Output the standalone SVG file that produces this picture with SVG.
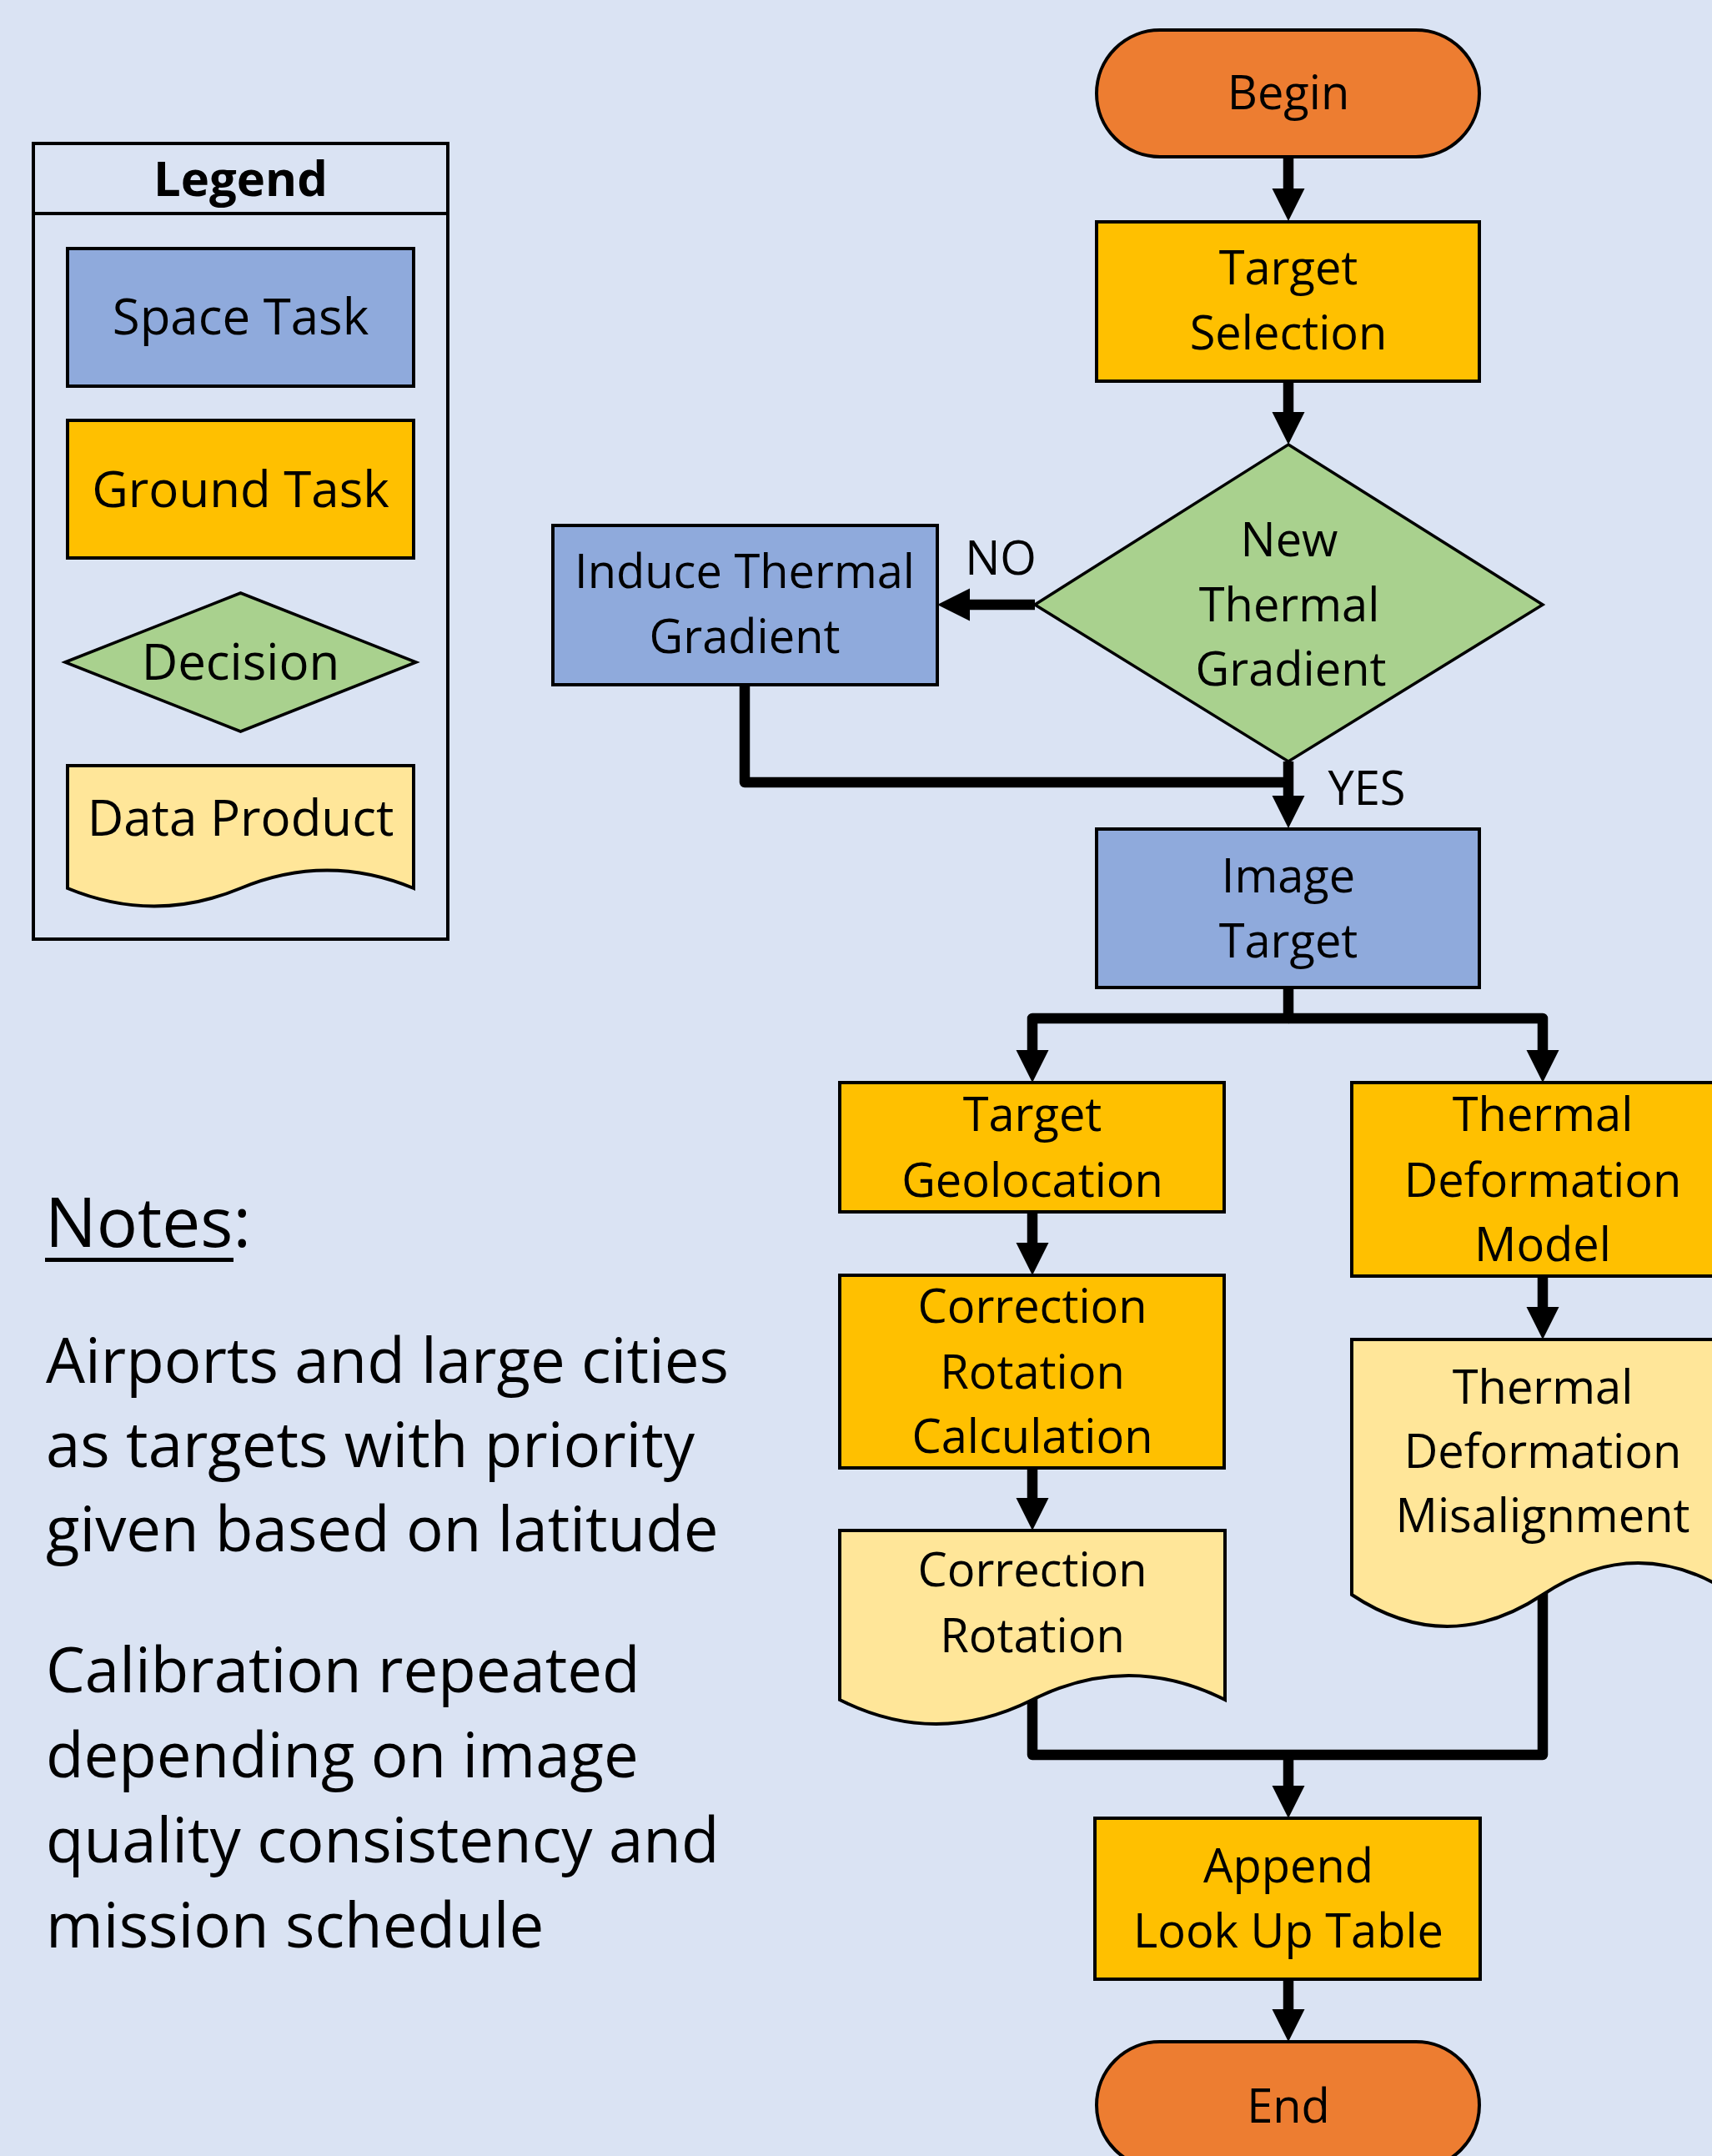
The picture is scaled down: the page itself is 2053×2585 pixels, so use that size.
<svg xmlns="http://www.w3.org/2000/svg" width="2053" height="2585" viewBox="0 0 2053 2585">
<style>
.t{font-family:"Open Sans","Noto Sans","Liberation Sans",sans-serif;fill:#000;text-anchor:middle}
.f{font-size:56px}
.lg{font-size:60px}
.nt{font-family:"Open Sans","Noto Sans","Liberation Sans",sans-serif;fill:#000;font-size:74.4px}
.box{stroke:#000;stroke-width:4}
.gt{fill:#FFC000}
.st{fill:#8FAADC}
.dc{fill:#A9D18E}
.dp{fill:#FFE699}
.te{fill:#ED7D31}
.c{fill:none;stroke:#000;stroke-width:12.5;stroke-linejoin:round}
</style>
<defs>
<marker id="ah" markerUnits="userSpaceOnUse" markerWidth="40" markerHeight="40" viewBox="0 0 40 40" refX="2" refY="20" orient="auto">
<path d="M0,0.5 L39,20 L0,39.5 z" fill="#000"/>
</marker>
</defs>
<rect x="0" y="0" width="2053" height="2585" fill="#DAE3F3"/>

<g id="legend">
<rect x="40" y="172" width="497" height="954" fill="none" stroke="#000" stroke-width="4"/>
<line x1="40" y1="256" x2="537" y2="256" stroke="#000" stroke-width="4"/>
<text class="t" x="288.5" y="235" style="font-size:58px;font-weight:bold">Legend</text>
<g id="legend-space">
<rect class="box st" x="81" y="298" width="415" height="165"/>
<text class="t lg" x="288.5" y="401">Space Task</text>
</g>
<g id="legend-ground">
<rect class="box gt" x="81" y="504" width="415" height="165"/>
<text class="t lg" x="288.5" y="608">Ground Task</text>
</g>
<g id="legend-decision">
<polygon class="dc" points="78,794 288.5,711 499,794 288.5,877" stroke="#000" stroke-width="3.5"/>
<text class="t lg" x="288.5" y="815">Decision</text>
</g>
<g id="legend-data">
<path class="box dp" d="M81,918 H496 V1065 Q392,1022 288.5,1065 T81,1065 Z"/>
<text class="t lg" x="288.5" y="1002">Data Product</text>
</g>
</g>

<g id="notes">
<text class="nt" x="54" y="1495" style="font-size:82px">Notes:</text>
<rect x="54" y="1508" width="226" height="5" fill="#000"/>
<text class="nt" x="55" y="1658">Airports and large cities</text>
<text class="nt" x="55" y="1759">as targets with priority</text>
<text class="nt" x="55" y="1860">given based on latitude</text>
<text class="nt" x="55" y="2029">Calibration repeated</text>
<text class="nt" x="55" y="2131">depending on image</text>
<text class="nt" x="55" y="2233">quality consistency and</text>
<text class="nt" x="55" y="2335">mission schedule</text>
</g>

<g id="connectors">
<path class="c" d="M1545,188 V228" marker-end="url(#ah)"/>
<path class="c" d="M1545,457 V496" marker-end="url(#ah)"/>
<path class="c" d="M1241,725 H1161" marker-end="url(#ah)"/>
<path class="c" d="M893,821 V938 H1545"/>
<path class="c" d="M1545,913 V956" marker-end="url(#ah)"/>
<path class="c" d="M1545,1184 V1221 H1238 V1261" marker-end="url(#ah)"/>
<path class="c" d="M1545,1221 H1850 V1261" marker-end="url(#ah)"/>
<path class="c" d="M1238,1453 V1492" marker-end="url(#ah)"/>
<path class="c" d="M1238,1760 V1798" marker-end="url(#ah)"/>
<path class="c" d="M1850,1530 V1569" marker-end="url(#ah)"/>
<path class="c" d="M1238,2025 V2104 H1850 V1900"/>
<path class="c" d="M1545,2104 V2143" marker-end="url(#ah)"/>
<path class="c" d="M1545,2373 V2411" marker-end="url(#ah)"/>
<text class="t f" x="1200" y="689">NO</text>
<text class="t f" x="1639" y="965">YES</text>
</g>

<g id="begin">
<rect class="box te" x="1315" y="36" width="459" height="152" rx="76" ry="76"/>
<text class="t f" x="1545" y="131">Begin</text>
</g>
<g id="target-selection">
<rect class="box gt" x="1315" y="266" width="459" height="191"/>
<text class="t f" x="1545" y="341">Target</text>
<text class="t f" x="1545" y="419">Selection</text>
</g>
<g id="new-thermal-gradient">
<polygon class="dc" points="1545,533 1850,725 1545,913 1241,725" stroke="#000" stroke-width="3.5"/>
<text class="t f" x="1546" y="667">New</text>
<text class="t f" x="1546" y="745">Thermal</text>
<text class="t f" x="1548" y="822">Gradient</text>
</g>
<g id="induce-thermal-gradient">
<rect class="box st" x="663" y="630" width="461" height="191"/>
<text class="t f" x="893" y="705">Induce Thermal</text>
<text class="t f" x="893" y="783">Gradient</text>
</g>
<g id="image-target">
<rect class="box st" x="1315" y="994" width="459" height="190"/>
<text class="t f" x="1545" y="1070">Image</text>
<text class="t f" x="1545" y="1148">Target</text>
</g>
<g id="target-geolocation">
<rect class="box gt" x="1007" y="1298" width="461" height="155"/>
<text class="t f" x="1238" y="1356">Target</text>
<text class="t f" x="1238" y="1435">Geolocation</text>
</g>
<g id="thermal-deformation-model">
<rect class="box gt" x="1621" y="1298" width="458" height="232"/>
<text class="t f" x="1850" y="1356">Thermal</text>
<text class="t f" x="1850" y="1435">Deformation</text>
<text class="t f" x="1850" y="1512">Model</text>
</g>
<g id="correction-rotation-calculation">
<rect class="box gt" x="1007" y="1529" width="461" height="231"/>
<text class="t f" x="1238" y="1586">Correction</text>
<text class="t f" x="1238" y="1665">Rotation</text>
<text class="t f" x="1238" y="1742">Calculation</text>
</g>
<g id="correction-rotation">
<path class="box dp" d="M1007,1835 H1469 V2038 Q1353.5,1980 1238,2038 T1007,2038 Z"/>
<text class="t f" x="1238" y="1902">Correction</text>
<text class="t f" x="1238" y="1981">Rotation</text>
</g>
<g id="thermal-deformation-misalignment">
<path class="box dp" d="M1621,1606 H2079 V1912 Q1964.5,1836 1850,1912 T1621,1912 Z"/>
<text class="t f" x="1850" y="1683">Thermal</text>
<text class="t f" x="1850" y="1760">Deformation</text>
<text class="t f" x="1850" y="1837">Misalignment</text>
</g>
<g id="append-lut">
<rect class="box gt" x="1313" y="2180" width="462" height="193"/>
<text class="t f" x="1545" y="2257">Append</text>
<text class="t f" x="1545" y="2335">Look Up Table</text>
</g>
<g id="end">
<rect class="box te" x="1315" y="2448" width="459" height="152" rx="76" ry="76"/>
<text class="t f" x="1545" y="2545">End</text>
</g>
</svg>
